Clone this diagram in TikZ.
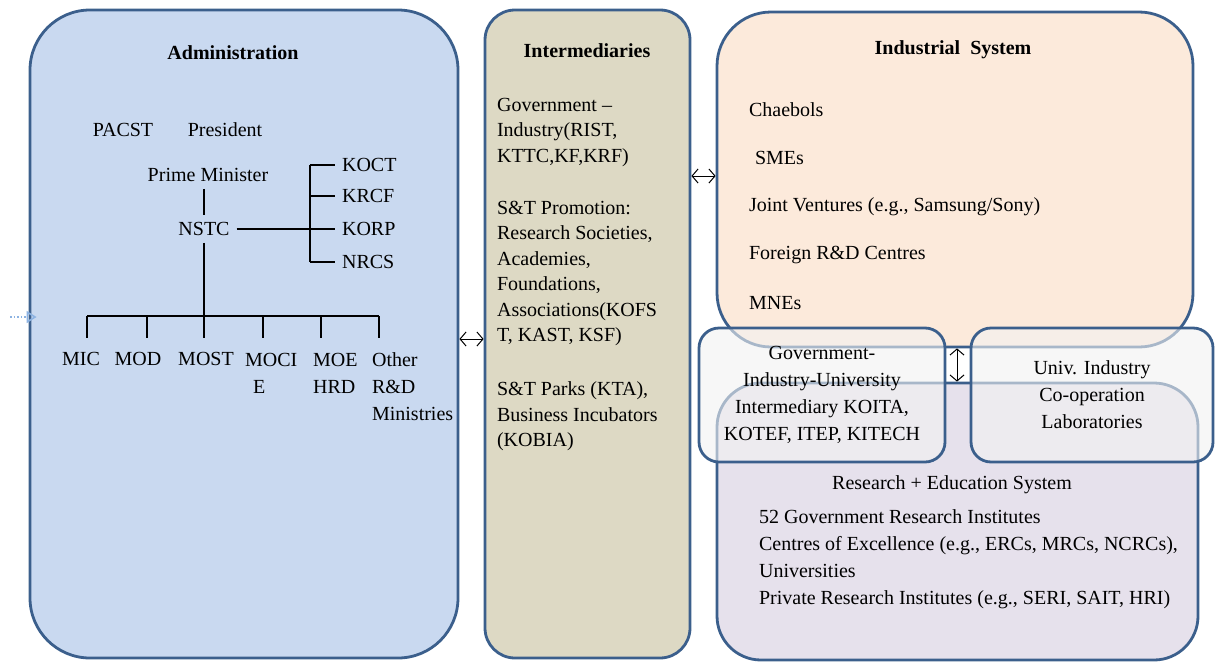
\documentclass[tikz,border=0pt]{standalone}
\usepackage{fontspec}
\setmainfont{Liberation Serif}
\usetikzlibrary{arrows,arrows.meta}

\definecolor{framecol}{HTML}{3B5F8C}
\definecolor{admfill}{HTML}{C9D9F0}
\definecolor{intfill}{HTML}{DDD9C4}
\definecolor{indfill}{HTML}{FCEADB}
\definecolor{resfill}{HTML}{E6E1EC}
\definecolor{linkfill}{HTML}{F2F2F2}
\definecolor{feedcol}{HTML}{8DB3E2}

\tikzset{
  panel/.style={draw=framecol, line width=1.4pt, inner sep=0pt},
  title/.style={font=\bfseries},
  tree/.style={line width=0.6pt},
  link/.style={{Straight Barb[length=3pt,width=7pt]}-{Straight Barb[length=3pt,width=7pt]}, line width=0.5pt},
  lines/.style={align=left, font=\fontsize{10pt}{13.5pt}\selectfont},
}

\begin{document}
\begin{tikzpicture}[x=0.5pt,y=-0.5pt]
\useasboundingbox (0,0) rectangle (1218,664);

% panels
\node[panel, fill=admfill, rounded corners=30pt, minimum width=214pt, minimum height=324pt] (admin) at (244,334) {};
\node[panel, fill=intfill, rounded corners=15pt, minimum width=102.5pt, minimum height=324pt] (inter) at (587.5,334) {};
\node[panel, fill=indfill, rounded corners=27pt, minimum width=238pt, minimum height=167.5pt] (indus) at (955,179.5) {};
\node[panel, fill=resfill, rounded corners=22pt, minimum width=240.5pt, minimum height=138.5pt] (research) at (957.5,521.5) {};
\node[panel, fill=linkfill, fill opacity=0.6, text opacity=1, rounded corners=10pt, minimum width=123pt, minimum height=67pt, lines, align=center] (giu) at (822,395)
  {Government-\\Industry-University\\Intermediary KOITA,\\KOTEF, ITEP, KITECH};
\node[panel, fill=linkfill, fill opacity=0.6, text opacity=1, rounded corners=10pt, minimum width=121pt, minimum height=67pt, lines, align=center] (univ) at (1092,395)
  {Univ. Industry\\Co-operation\\Laboratories};

% administration
\node[title] (admtitle) at (233,53) {Administration};
\node (pacst) at (123,130) {PACST};
\node (president) at (225,130) {President};
\node (pm) at (208,175) {Prime Minister};
\node (nstc) at (204,229) {NSTC};
\node[anchor=west] (koct) at (335,165) {KOCT};
\node[anchor=west] (krcf) at (335,196) {KRCF};
\node[anchor=west] (korp) at (335,229) {KORP};
\node[anchor=west] (nrcs) at (335,262) {NRCS};
\coordinate (brk) at (310,229);
\draw[tree] (nstc.north |- pm.south) -- (nstc.north);
\draw[tree] (nstc.east) -- (korp.west);
\draw[tree] (brk |- koct) -- (brk |- nrcs);
\foreach \n in {koct,krcf,nrcs} {\draw[tree] (brk |- \n) -- (\n.west);}
\foreach \x [count=\i] in {87,147,204,263,321,379} {
  \coordinate (tk\i) at (\x,316);
  \draw[tree] (tk\i) -- ++(0,22);
}
\draw[tree] (tk1) -- (tk6);
\draw[tree] (nstc.south) -- (tk3);
\node[lines] (mic) at (81,359) {MIC};
\node[lines] (mod) at (138,359) {MOD};
\node[lines] (most) at (206,359) {MOST};
\node[lines, anchor=north west] (moci) at (238,346) {MOCI\\\hspace{4pt}E};
\node[lines, anchor=north west] (moe) at (306,346) {MOE\\HRD};
\node[lines, anchor=north west] (other) at (365,346) {Other\\R\&D\\Ministries};

% intermediaries
\node[title] (inttitle) at (587,51) {Intermediaries};
\node[anchor=north west, align=left, font=\fontsize{10pt}{12.75pt}\selectfont] (govind) at (490,91)
  {Government --\\Industry(RIST,\\KTTC,KF,KRF)};
\node[anchor=north west, align=left, font=\fontsize{10pt}{12.75pt}\selectfont] (promo) at (490,194)
  {S\&T Promotion:\\Research Societies,\\Academies,\\Foundations,\\Associations(KOFS\\T, KAST, KSF)};
\node[anchor=north west, align=left, font=\fontsize{10pt}{12.75pt}\selectfont] (parks) at (490,375)
  {S\&T Parks (KTA),\\Business Incubators\\(KOBIA)};

% industrial system
\node[title] (indtitle) at (953,50) {Industrial\ \ System};
\foreach \txt [count=\i] in {Chaebols, \hspace{3pt}SMEs, {Joint Ventures (e.g., Samsung/Sony)}, Foreign R\&D Centres, MNEs}
  {\node[anchor=west] (ind\i) at (742,61.6+48.3*\i) {\txt};}

% research + education
\node (restitle) at (952,485) {Research + Education System};
\node[lines, anchor=west] (reslist) at (752,559)
  {52 Government Research Institutes\\Centres of Excellence (e.g., ERCs, MRCs, NCRCs),\\Universities\\Private Research Institutes (e.g., SERI, SAIT, HRI)};

% links
\coordinate (ai) at (0,339);
\coordinate (ii) at (0,176);
\coordinate (vx) at (957,0);
\coordinate (feed) at (10,317);
\draw[link] (admin.east |- ai) -- (inter.west |- ai);
\draw[link] (inter.east |- ii) -- (indus.west |- ii);
\draw[link] (indus.south -| vx) -- (research.north -| vx);
\draw[feedcol, densely dotted, line width=0.8pt, -{Triangle[open,length=5pt,width=6pt]}] (feed) -- ([xshift=4pt]admin.west |- feed);
\end{tikzpicture}
\end{document}
